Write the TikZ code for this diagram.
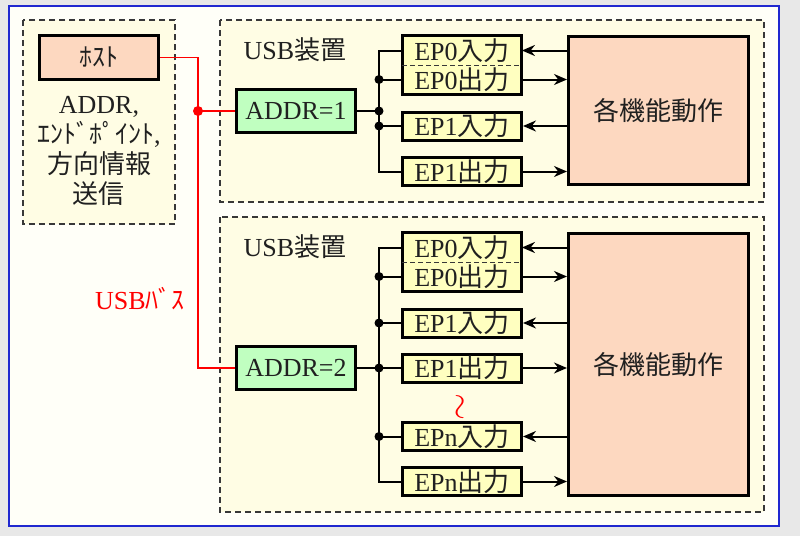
\documentclass[tikz,border=0pt]{standalone}
\usepackage{fontspec}
\usetikzlibrary{arrows.meta}
\setmainfont{Liberation Serif}
\newfontfamily\jpfont{Noto Sans CJK JP}
\newcommand{\jp}[1]{{\jpfont #1}}
\definecolor{pagegray}{RGB}{232,232,232}
\definecolor{framefill}{RGB}{255,255,248}
\definecolor{frameblue}{RGB}{32,40,208}
\definecolor{paleyellow}{RGB}{255,253,228}
\definecolor{dashgray}{RGB}{56,56,56}
\definecolor{peach}{RGB}{253,216,192}
\definecolor{mint}{RGB}{192,255,192}
\definecolor{epyellow}{RGB}{255,255,192}
\definecolor{inkgray}{RGB}{32,32,32}

\begin{document}
\begin{tikzpicture}[x=0.5pt,y=-0.5pt,
	font=\fontsize{13}{15}\selectfont,text=inkgray,
	plain/.style={draw,line width=1.5pt,inner sep=0pt},
	hostbox/.style={plain,fill=peach,minimum width=59.5pt,minimum height=22pt},
	addrbox/.style={plain,fill=mint,minimum width=59.5pt,minimum height=21.5pt},
	funcbox/.style={plain,fill=peach,minimum width=90pt,font=\fontsize{13}{16}\selectfont},
	epbox/.style={plain,fill=epyellow,minimum width=59.5pt,minimum height=14pt},
	eprow/.style={fill=epyellow,inner sep=0pt,minimum width=59.5pt,minimum height=14.5pt},
	rowsplit/.style={draw=dashgray,line width=0.6pt,dash pattern=on 2.5pt off 1.5pt},
	devbox/.style={draw=dashgray,fill=paleyellow,line width=0.6pt,dash pattern=on 3pt off 2pt},
	bus/.style={line width=1pt},
	tap/.style={fill,circle,inner sep=0pt,minimum size=4.5pt},
	toep/.style={bus,-{Stealth[length=6.5pt,width=5.5pt]}},
	usbline/.style={red,line width=0.75pt},
	]
	%Page and frame
	\fill[pagegray] (0,0) rectangle (800,536);
	\useasboundingbox (0,0) rectangle (800,536);
	\draw[frameblue,fill=framefill,line width=1pt] (9,6) rectangle (779,526);

	%Host side
	\draw[devbox] (23,20) rectangle (175,224);
	\node[hostbox] (host) at (99,57.5) {\jp{ﾎｽﾄ}};
	\node[align=center] (hostinfo) at (99,151) {ADDR,\\\jp{ｴﾝﾄﾞﾎﾟｲﾝﾄ},\\\jp{方向情報}\\\jp{送信}};

	%USB device 1
	\draw[devbox] (220,20) rectangle (764,202);
	\node (dev1) at (295,50) {USB\jp{装置}};
	\node[addrbox] (addr1) at (296,111) {ADDR=1};
	\node[funcbox,minimum height=74pt] (func1) at (658.5,110.5) {\jp{各機能動作}};
	\node[eprow] (ep0in1) at (462,50.5) {EP0\jp{入力}};
	\node[eprow] (ep0out1) at (462,79.5) {EP0\jp{出力}};
	\draw[plain] (ep0in1.north west) rectangle (ep0out1.south east);
	\draw[rowsplit] (ep0in1.south west) -- (ep0in1.south east);
	\node[epbox] (ep1in1) at (462,126) {EP1\jp{入力}};
	\node[epbox] (ep1out1) at (462,171.5) {EP1\jp{出力}};

	%Bus of device 1
	\coordinate (bus1) at (379,0);
	\draw[bus] (ep0in1.west) -| (bus1 |- ep1out1) -- (ep1out1.west);
	\draw[bus] (addr1.east) -- (bus1 |- addr1) node[tap] {};
	\draw[bus] (bus1 |- ep0out1) node[tap] {} -- (ep0out1.west);
	\draw[bus] (bus1 |- ep1in1) node[tap] {} -- (ep1in1.west);

	%Endpoints to functions
	\draw[toep] (func1.west |- ep0in1) -- (ep0in1.east);
	\draw[toep] (ep0out1.east) -- (func1.west |- ep0out1);
	\draw[toep] (func1.west |- ep1in1) -- (ep1in1.east);
	\draw[toep] (ep1out1.east) -- (func1.west |- ep1out1);

	%USB device 2
	\draw[devbox] (220,217) rectangle (764,512);
	\node (dev2) at (295,247) {USB\jp{装置}};
	\node[addrbox] (addr2) at (296,368) {ADDR=2};
	\node[funcbox,minimum height=131pt] (func2) at (658.5,364.5) {\jp{各機能動作}};
	\node[eprow] (ep0in2) at (462,247.5) {EP0\jp{入力}};
	\node[eprow] (ep0out2) at (462,276.5) {EP0\jp{出力}};
	\draw[plain] (ep0in2.north west) rectangle (ep0out2.south east);
	\draw[rowsplit] (ep0in2.south west) -- (ep0in2.south east);
	\node[epbox] (ep1in2) at (462,323) {EP1\jp{入力}};
	\node[epbox] (ep1out2) at (462,368) {EP1\jp{出力}};
	\node[epbox] (epnin2) at (462,436.5) {EPn\jp{入力}};
	\node[epbox] (epnout2) at (462,481.5) {EPn\jp{出力}};
	\node[red,rotate=90,font=\fontsize{16}{16}\selectfont] (gap2) at (462,407) {$\sim$};

	%Bus of device 2
	\draw[bus] (ep0in2.west) -| (bus1 |- epnout2) -- (epnout2.west);
	\draw[bus] (addr2.east) -- (bus1 |- addr2) node[tap] {} -- (ep1out2.west);
	\draw[bus] (bus1 |- ep0out2) node[tap] {} -- (ep0out2.west);
	\draw[bus] (bus1 |- ep1in2) node[tap] {} -- (ep1in2.west);
	\draw[bus] (bus1 |- epnin2) node[tap] {} -- (epnin2.west);

	%Endpoints to functions
	\draw[toep] (func2.west |- ep0in2) -- (ep0in2.east);
	\draw[toep] (ep0out2.east) -- (func2.west |- ep0out2);
	\draw[toep] (func2.west |- ep1in2) -- (ep1in2.east);
	\draw[toep] (ep1out2.east) -- (func2.west |- ep1out2);
	\draw[toep] (func2.west |- epnin2) -- (epnin2.east);
	\draw[toep] (epnout2.east) -- (func2.west |- epnout2);

	%USB bus from the host
	\coordinate (rb) at (198,0);
	\draw[usbline] (host.east) -| (rb |- addr2) -- (addr2.west);
	\draw[usbline] (rb |- addr1) node[tap,red,minimum size=5pt] {} -- (addr1.west);
	\node[red] (buslabel) at (140,299) {USB\jp{ﾊﾞｽ}};
\end{tikzpicture}
\end{document}
